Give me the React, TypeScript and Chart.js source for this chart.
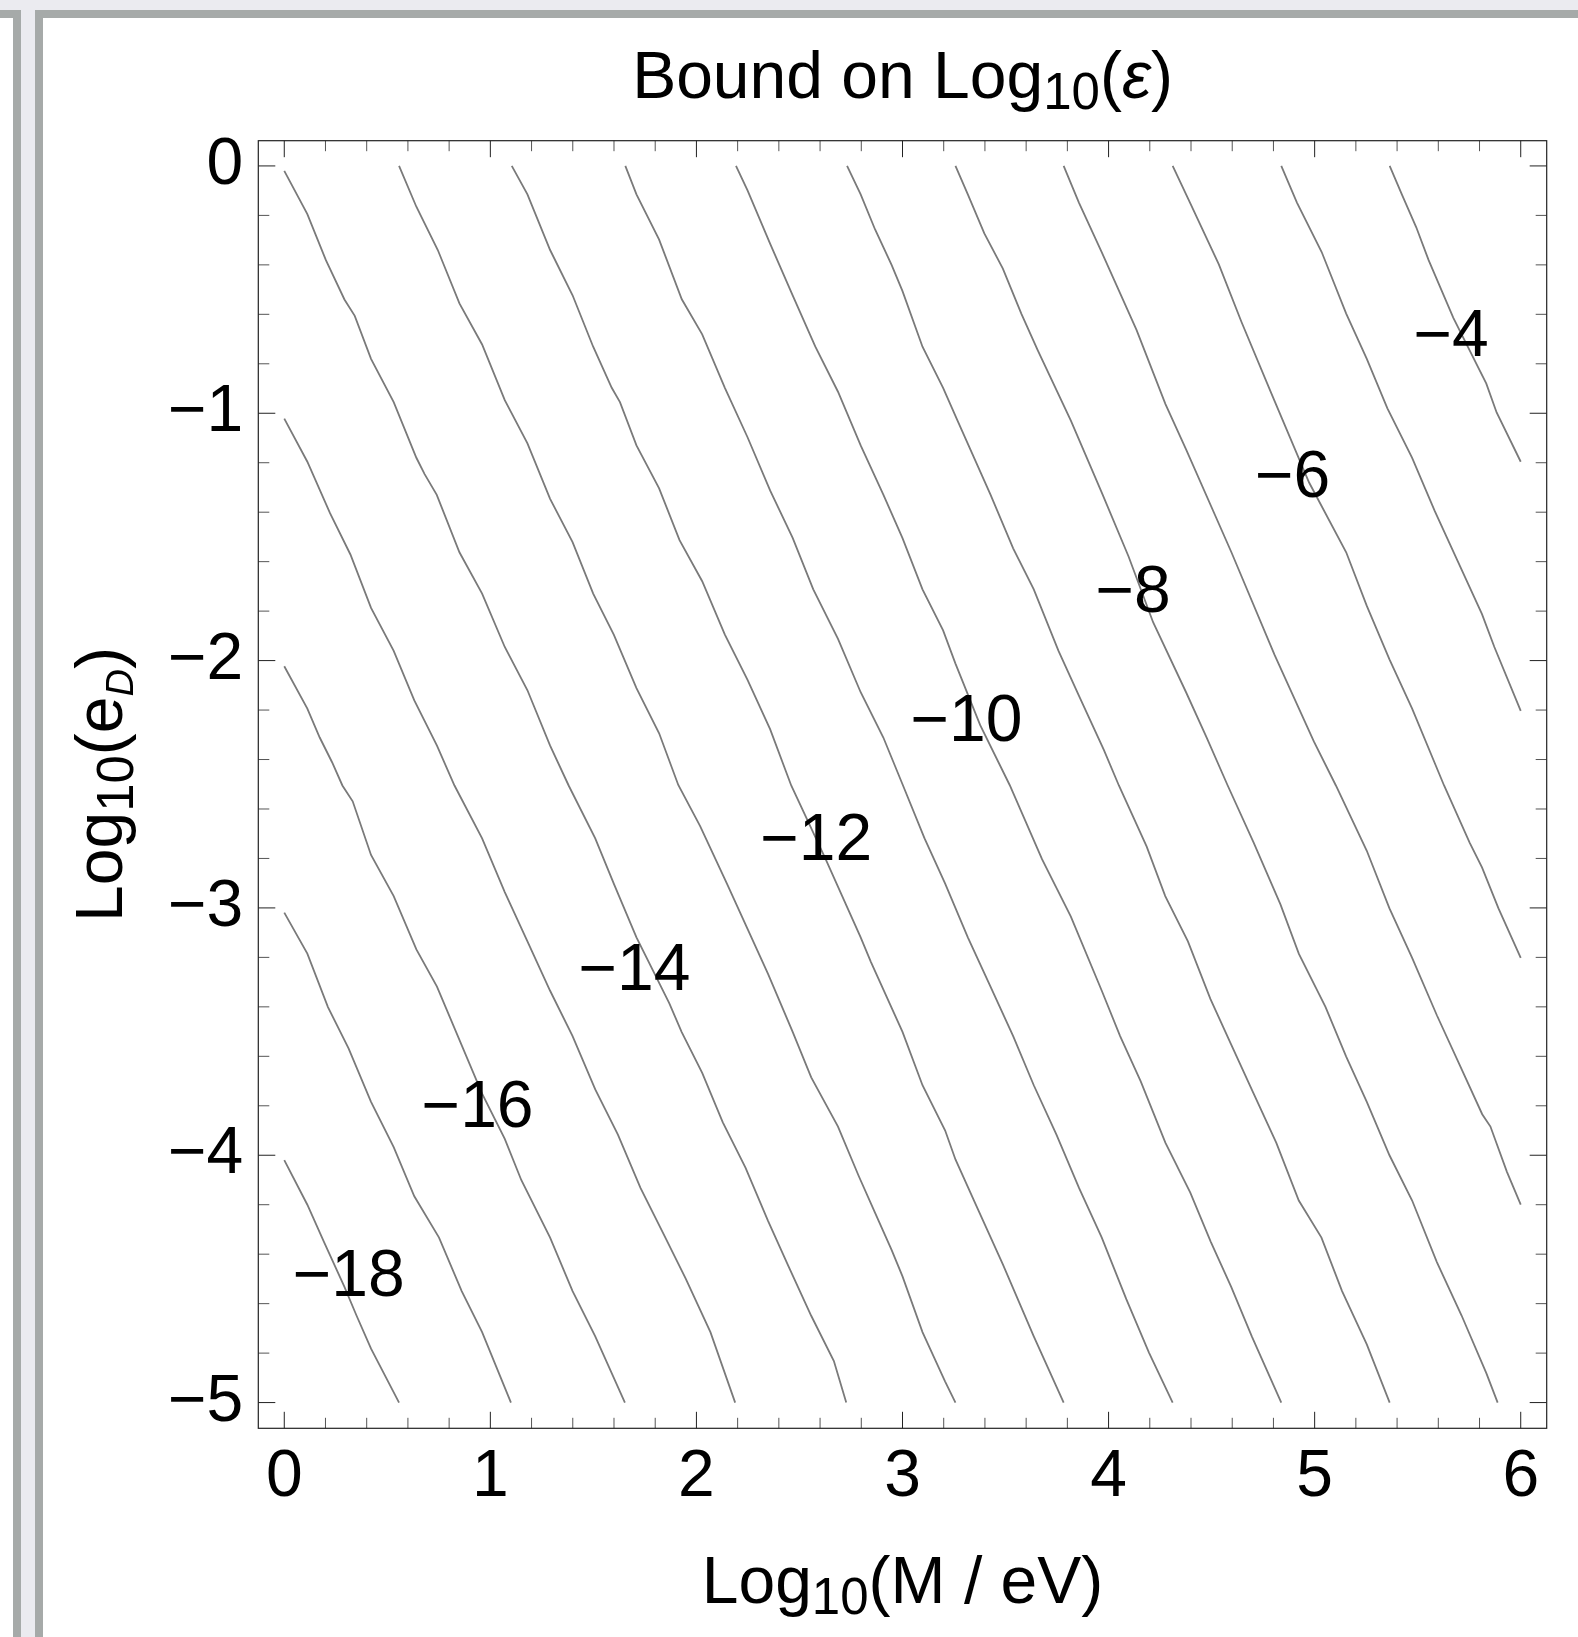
import React, { useEffect, useRef } from 'react';
import { Chart, registerables } from 'chart.js';

Chart.register(...registerables);

// ---------------- data ----------------
const X_TICKS = [0, 1, 2, 3, 4, 5, 6];
const Y_TICKS = [0, -1, -2, -3, -4, -5];
const X_MIN = -0.126;
const X_MAX = 6.126;
const Y_MIN = -5.104;
const Y_MAX = 0.102;
const MINOR_STEP = 0.2;

const LEVELS = [-4, -5, -6, -7, -8, -9, -10, -11, -12, -13, -14, -15, -16, -17, -18];

const LINE_M4: [number, number][] = [[5.364, 0], [5.423, -0.115], [5.493, -0.248], [5.553, -0.381], [5.673, -0.614], [5.833, -0.88], [5.883, -0.997], [6.0, -1.196]];
const LINE_M5: [number, number][] = [[4.838, 0], [4.914, -0.148], [5.034, -0.348], [5.153, -0.597], [5.253, -0.78], [5.353, -0.98], [5.473, -1.18], [5.583, -1.396], [5.693, -1.596], [5.812, -1.812], [5.872, -1.945], [6.0, -2.203]];
const LINE_M6: [number, number][] = [[4.311, 0], [4.395, -0.148], [4.535, -0.398], [4.645, -0.631], [4.795, -0.93], [4.973, -1.28], [5.153, -1.562], [5.253, -1.779], [5.363, -1.995], [5.473, -2.194], [5.628, -2.505], [5.752, -2.736], [5.812, -2.836], [5.892, -3.002], [6.0, -3.202]];
const LINE_M7: [number, number][] = [[3.782, 0], [3.856, -0.148], [3.966, -0.348], [4.136, -0.664], [4.276, -0.963], [4.376, -1.146], [4.596, -1.562], [4.806, -1.978], [4.996, -2.327], [5.103, -2.505], [5.253, -2.769], [5.363, -3.002], [5.473, -3.202], [5.593, -3.434], [5.703, -3.634], [5.813, -3.834], [5.853, -3.884], [5.933, -4.067], [6.0, -4.2]];
const LINE_M8: [number, number][] = [[3.257, 0], [3.317, -0.115], [3.397, -0.273], [3.487, -0.415], [3.577, -0.598], [3.657, -0.747], [3.817, -1.03], [3.967, -1.321], [4.097, -1.579], [4.216, -1.845], [4.376, -2.128], [4.476, -2.311], [4.578, -2.505], [4.704, -2.736], [4.834, -2.986], [4.923, -3.185], [5.053, -3.401], [5.153, -3.601], [5.253, -3.784], [5.363, -4.0], [5.473, -4.183], [5.593, -4.432], [5.713, -4.648], [5.833, -4.881], [5.888, -5.0]];
const LINE_M9: [number, number][] = [[2.731, 0], [2.797, -0.115], [2.867, -0.257], [2.947, -0.4], [3.0, -0.506], [3.097, -0.731], [3.197, -0.897], [3.267, -1.03], [3.427, -1.329], [3.537, -1.546], [3.637, -1.712], [3.757, -1.961], [3.857, -2.144], [3.977, -2.361], [4.05, -2.505], [4.185, -2.752], [4.275, -2.952], [4.385, -3.135], [4.494, -3.368], [4.594, -3.551], [4.704, -3.751], [4.814, -3.95], [4.923, -4.183], [5.033, -4.333], [5.133, -4.549], [5.253, -4.765], [5.364, -5.0]];
const LINE_M10: [number, number][] = [[2.192, 0], [2.248, -0.099], [2.358, -0.315], [2.467, -0.523], [2.577, -0.731], [2.687, -0.913], [2.797, -1.13], [2.907, -1.329], [3.0, -1.505], [3.097, -1.712], [3.197, -1.878], [3.257, -2.012], [3.377, -2.261], [3.52, -2.503], [3.677, -2.803], [3.817, -3.035], [3.967, -3.335], [4.056, -3.518], [4.156, -3.701], [4.276, -3.95], [4.396, -4.15], [4.496, -4.35], [4.595, -4.532], [4.695, -4.732], [4.838, -5.0]];
const LINE_M11: [number, number][] = [[1.655, 0], [1.709, -0.115], [1.819, -0.298], [1.929, -0.539], [2.028, -0.681], [2.138, -0.897], [2.248, -1.097], [2.358, -1.313], [2.467, -1.504], [2.567, -1.712], [2.687, -1.912], [2.797, -2.128], [2.907, -2.311], [3.0, -2.5], [3.107, -2.719], [3.207, -2.902], [3.317, -3.119], [3.427, -3.318], [3.537, -3.518], [3.637, -3.717], [3.747, -3.917], [3.857, -4.133], [3.967, -4.333], [4.086, -4.582], [4.196, -4.798], [4.311, -5.0]];
const LINE_M12: [number, number][] = [[1.104, 0], [1.18, -0.115], [1.29, -0.34], [1.399, -0.523], [1.499, -0.731], [1.589, -0.897], [1.629, -0.955], [1.709, -1.13], [1.819, -1.304], [1.918, -1.513], [2.028, -1.679], [2.138, -1.895], [2.248, -2.078], [2.358, -2.278], [2.46, -2.505], [2.627, -2.803], [2.797, -3.119], [2.847, -3.219], [3.0, -3.501], [3.097, -3.717], [3.207, -3.9], [3.257, -4.017], [3.347, -4.183], [3.487, -4.441], [3.637, -4.732], [3.782, -5.0]];
const LINE_M13: [number, number][] = [[0.557, 0], [0.641, -0.165], [0.745, -0.34], [0.85, -0.556], [0.96, -0.722], [1.07, -0.947], [1.18, -1.122], [1.29, -1.346], [1.399, -1.521], [1.499, -1.729], [1.599, -1.895], [1.709, -2.111], [1.819, -2.294], [1.912, -2.503], [2.018, -2.669], [2.148, -2.902], [2.248, -3.085], [2.348, -3.268], [2.467, -3.501], [2.557, -3.685], [2.687, -3.884], [2.787, -4.083], [2.867, -4.233], [2.947, -4.383], [3.0, -4.49], [3.097, -4.715], [3.207, -4.915], [3.257, -5.0]];
const LINE_M14: [number, number][] = [[0, -0.02], [0.072, -0.132], [0.112, -0.195], [0.202, -0.381], [0.292, -0.54], [0.342, -0.606], [0.421, -0.78], [0.531, -0.955], [0.641, -1.18], [0.681, -1.246], [0.74, -1.33], [0.85, -1.562], [0.96, -1.729], [1.07, -1.945], [1.18, -2.12], [1.29, -2.344], [1.38, -2.505], [1.509, -2.719], [1.599, -2.902], [1.709, -3.119], [1.868, -3.385], [1.928, -3.501], [2.028, -3.667], [2.128, -3.867], [2.238, -4.05], [2.348, -4.266], [2.447, -4.449], [2.557, -4.649], [2.667, -4.832], [2.727, -5.0]];
const LINE_M15: [number, number][] = [[0, -1.022], [0.112, -1.196], [0.222, -1.404], [0.321, -1.571], [0.421, -1.787], [0.531, -1.961], [0.631, -2.161], [0.741, -2.344], [0.826, -2.505], [0.96, -2.719], [1.07, -2.936], [1.18, -3.135], [1.29, -3.335], [1.399, -3.518], [1.509, -3.734], [1.619, -3.917], [1.729, -4.133], [1.839, -4.316], [1.948, -4.499], [2.068, -4.715], [2.188, -5.0]];
const LINE_M16: [number, number][] = [[0, -2.023], [0.112, -2.194], [0.172, -2.311], [0.232, -2.411], [0.282, -2.505], [0.332, -2.569], [0.421, -2.786], [0.531, -2.952], [0.641, -3.168], [0.741, -3.318], [0.96, -3.751], [1.07, -3.934], [1.15, -4.1], [1.29, -4.333], [1.399, -4.549], [1.509, -4.732], [1.653, -5.0]];
const LINE_M17: [number, number][] = [[0, -3.019], [0.112, -3.185], [0.212, -3.401], [0.312, -3.568], [0.421, -3.784], [0.531, -3.967], [0.631, -4.166], [0.751, -4.333], [0.861, -4.549], [0.96, -4.715], [1.1, -5.0]];
const LINE_M18: [number, number][] = [[0, -4.02], [0.112, -4.2], [0.192, -4.349], [0.292, -4.532], [0.351, -4.649], [0.421, -4.782], [0.557, -5.0]];

const LINES = [LINE_M4, LINE_M5, LINE_M6, LINE_M7, LINE_M8, LINE_M9, LINE_M10, LINE_M11, LINE_M12, LINE_M13, LINE_M14, LINE_M15, LINE_M16, LINE_M17, LINE_M18];

const LABEL_TEXT = ['\u22124', '\u22126', '\u22128', '\u221210', '\u221212', '\u221214', '\u221216', '\u221218'];
const LABEL_X = [5.662, 4.893, 4.119, 3.31, 2.581, 1.699, 0.938, 0.313];
const LABEL_Y = [-0.672, -1.243, -1.709, -2.228, -2.711, -3.235, -3.792, -4.474];

// ---------------- layout / style ----------------
const W = 1578;
const H = 1637;
const PLOT_LEFT = 258.3;
const PLOT_TOP = 140.7;
const PLOT_RIGHT = 1546.7;
const PLOT_BOTTOM = 1428.3;
const FONT = '"Liberation Sans", Arial, Helvetica, sans-serif';
const FS = 66;
const SUB_FS = 51;
const SUB2_FS = 38;
const SUB_SHIFT = 11;
const LINE_COLOR = '#7a7a7a';
const LIGHT = '#ebebf0';
const BORDER = '#a6aaa9';

type Part = { t: string; sub?: boolean; italic?: boolean; size?: number };

const TITLE_PARTS: Part[] = [{ t: 'Bound on Log' }, { t: '10', sub: true }, { t: '(' }, { t: '\u03b5', italic: true }, { t: ')' }];
const XLABEL_PARTS: Part[] = [{ t: 'Log' }, { t: '10', sub: true }, { t: '(M / eV)' }];
const YLABEL_PARTS: Part[] = [{ t: 'Log' }, { t: '10', sub: true }, { t: '(e' }, { t: 'D', sub: true, italic: true, size: SUB2_FS }, { t: ')' }];

const fmt = (v: number) => (v < 0 ? '\u2212' + Math.abs(v) : String(v));

function fontOf(p: Part) {
  const size = p.size ?? (p.sub ? SUB_FS : FS);
  return `${p.italic ? 'italic ' : ''}${size}px ${FONT}`;
}

function drawRich(ctx: CanvasRenderingContext2D, parts: Part[], cx: number, baseline: number) {
  let total = 0;
  const widths = parts.map((p) => {
    ctx.font = fontOf(p);
    const w = ctx.measureText(p.t).width;
    total += w;
    return w;
  });
  let x = cx - total / 2;
  ctx.textAlign = 'left';
  ctx.textBaseline = 'alphabetic';
  parts.forEach((p, i) => {
    ctx.font = fontOf(p);
    ctx.fillText(p.t, x, baseline + (p.sub ? SUB_SHIFT : 0));
    x += widths[i];
  });
}

const decorPlugin = {
  id: 'decor',
  beforeDraw(chart: any) {
    const ctx = chart.ctx as CanvasRenderingContext2D;
    ctx.save();
    ctx.fillStyle = '#ffffff';
    ctx.fillRect(0, 0, W, H);
    ctx.fillStyle = LIGHT;
    ctx.fillRect(0, 0, W, 10);
    ctx.fillRect(21, 0, 14, H);
    ctx.fillStyle = BORDER;
    ctx.fillRect(0, 10, 21, 8);
    ctx.fillRect(13, 10, 8, H - 10);
    ctx.fillRect(35, 10, W - 35, 8);
    ctx.fillRect(35, 10, 8, H - 10);
    ctx.restore();
  },
};

const framePlugin = {
  id: 'frameTicks',
  afterDatasetsDraw(chart: any) {
    const ctx = chart.ctx as CanvasRenderingContext2D;
    const xs = chart.scales.x;
    const ys = chart.scales.y;
    const { left, right, top, bottom } = chart.chartArea;
    ctx.save();
    // contour labels
    ctx.fillStyle = '#000';
    ctx.font = `${FS}px ${FONT}`;
    ctx.textAlign = 'center';
    ctx.textBaseline = 'alphabetic';
    LABEL_TEXT.forEach((t, i) => {
      const px = xs.getPixelForValue(LABEL_X[i]);
      const py = ys.getPixelForValue(LABEL_Y[i]);
      ctx.fillText(t, px, py + FS * 0.358);
    });
    // ticks
    const drawTick = (x1: number, y1: number, x2: number, y2: number, major: boolean) => {
      ctx.strokeStyle = major ? '#222' : '#555';
      ctx.lineWidth = 1;
      ctx.beginPath();
      ctx.moveTo(x1, y1);
      ctx.lineTo(x2, y2);
      ctx.stroke();
    };
    const nx = Math.round((X_TICKS[X_TICKS.length - 1] - X_TICKS[0]) / MINOR_STEP);
    for (let i = 0; i <= nx; i++) {
      const v = X_TICKS[0] + i * MINOR_STEP;
      const major = i % 5 === 0;
      const len = major ? 16.5 : 10.5;
      const px = xs.getPixelForValue(v);
      drawTick(px, bottom, px, bottom - len, major);
      drawTick(px, top, px, top + len, major);
    }
    const ny = Math.round((Y_TICKS[0] - Y_TICKS[Y_TICKS.length - 1]) / MINOR_STEP);
    for (let i = 0; i <= ny; i++) {
      const v = Y_TICKS[0] - i * MINOR_STEP;
      const major = i % 5 === 0;
      const len = major ? 17 : 11;
      const py = ys.getPixelForValue(v);
      drawTick(left, py, left + len, py, major);
      drawTick(right, py, right - len, py, major);
    }
    // frame
    ctx.strokeStyle = '#222';
    ctx.lineWidth = 1.2;
    ctx.strokeRect(left, top, right - left, bottom - top);
    ctx.restore();
  },
  afterDraw(chart: any) {
    const ctx = chart.ctx as CanvasRenderingContext2D;
    const { left, right, top, bottom } = chart.chartArea;
    const cx = (left + right) / 2;
    const cy = (top + bottom) / 2;
    ctx.save();
    ctx.fillStyle = '#000';
    drawRich(ctx, TITLE_PARTS, cx, 98);
    drawRich(ctx, XLABEL_PARTS, cx, 1603);
    ctx.translate(121.7, cy);
    ctx.rotate(-Math.PI / 2);
    drawRich(ctx, YLABEL_PARTS, 0, 0);
    ctx.restore();
  },
};

export default function App() {
  const ref = useRef<HTMLCanvasElement>(null);
  useEffect(() => {
    const canvas = ref.current;
    if (!canvas) return;
    const chart = new Chart(canvas, {
      type: 'scatter',
      data: {
        datasets: LINES.map((pts, i) => ({
          label: String(LEVELS[i]),
          data: pts.map(([x, y]) => ({ x, y })),
          showLine: true,
          borderColor: LINE_COLOR,
          backgroundColor: LINE_COLOR,
          borderWidth: 1.8,
          pointRadius: 0,
          pointHoverRadius: 0,
          tension: 0,
          fill: false,
        })),
      },
      options: {
        responsive: false,
        maintainAspectRatio: false,
        devicePixelRatio: 1,
        animation: false,
        events: [],
        layout: { padding: { top: PLOT_TOP, right: W - PLOT_RIGHT, left: 0, bottom: 0 } },
        plugins: {
          legend: { display: false },
          tooltip: { enabled: false },
          title: { display: false },
        },
        scales: {
          x: {
            type: 'linear',
            min: X_MIN,
            max: X_MAX,
            afterBuildTicks: (s: any) => {
              s.ticks = X_TICKS.map((v) => ({ value: v }));
            },
            afterFit: (s: any) => {
              s.height = H - PLOT_BOTTOM;
            },
            ticks: {
              autoSkip: false,
              maxRotation: 0,
              minRotation: 0,
              padding: 10,
              color: '#000',
              font: { family: FONT, size: FS },
              callback: (v: any) => fmt(Number(v)),
            },
            grid: { display: false, drawTicks: false },
            border: { display: false },
          },
          y: {
            type: 'linear',
            min: Y_MIN,
            max: Y_MAX,
            afterBuildTicks: (s: any) => {
              s.ticks = Y_TICKS.map((v) => ({ value: v }));
            },
            afterFit: (s: any) => {
              s.width = PLOT_LEFT;
            },
            ticks: {
              autoSkip: false,
              padding: 15,
              color: '#000',
              font: { family: FONT, size: FS },
              callback: (v: any) => fmt(Number(v)),
            },
            grid: { display: false, drawTicks: false },
            border: { display: false },
          },
        },
      } as any,
      plugins: [decorPlugin, framePlugin],
    });
    return () => chart.destroy();
  }, []);
  return (
    <div style={{ position: 'absolute', left: 0, top: 0, width: W, height: H, overflow: 'hidden' }}>
      <canvas ref={ref} width={W} height={H} style={{ display: 'block', width: W, height: H }} />
    </div>
  );
}
